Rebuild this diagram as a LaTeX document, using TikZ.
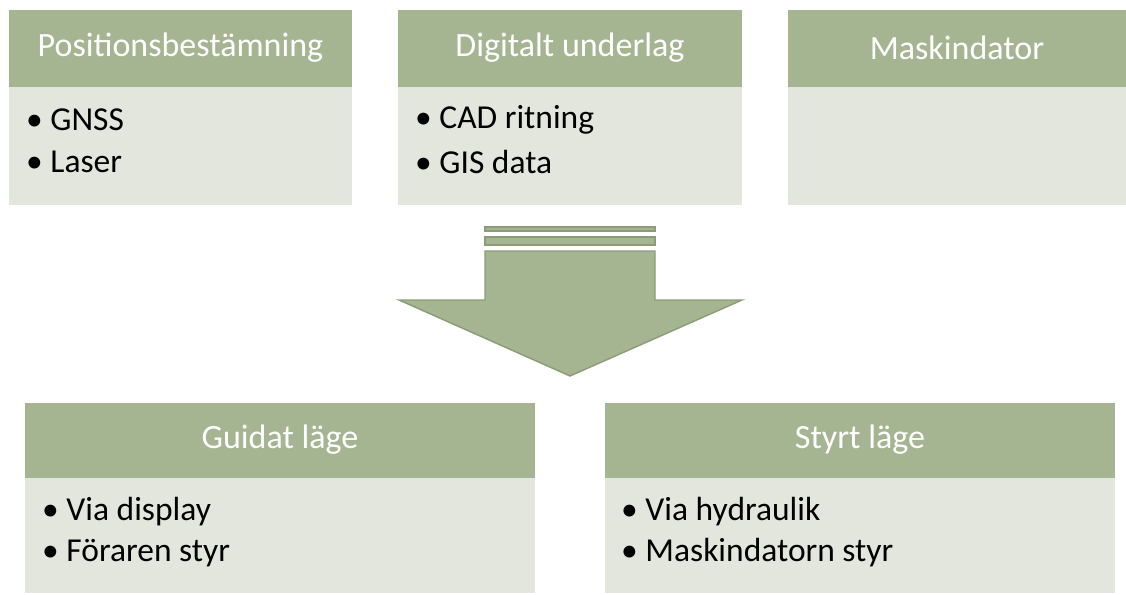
\documentclass[tikz,border=0pt]{standalone}
\usepackage{fontspec}
\setmainfont{Carlito}
\definecolor{hdr}{HTML}{A5B592}
\definecolor{bdy}{HTML}{E3E6DC}
\definecolor{arrline}{HTML}{8C9C78}
\begin{document}
\begin{tikzpicture}[x=1pt,y=-1pt,
  hdrtext/.style={text=white,font=\fontsize{34}{40}\selectfont,anchor=center},
  itemtext/.style={text=black,font=\fontsize{33.5}{40}\selectfont,anchor=west,inner sep=0pt},
  arrowpart/.style={fill=hdr,draw=arrline,line width=1.4pt,line join=miter}]
\useasboundingbox (0,0) rectangle (1126,594);
% top row
\foreach \xa/\xb in {9/352,398/742,788/1126}{
  \fill[hdr] (\xa,10) rectangle (\xb,87);
  \fill[bdy] (\xa,87) rectangle (\xb,205);
}
\node[hdrtext] (ha) at (180.5,48) {Positionsbestämning};
\node[hdrtext] (hb) at (570,48) {Digitalt underlag};
\node[hdrtext] (hc) at (957,48) {Maskindator};
\node[itemtext] (a1) at (26,120) {• GNSS};
\node[itemtext] (a2) at (26,162) {• Laser};
\node[itemtext] (b1) at (415,120) {• CAD ritning};
\node[itemtext] (b2) at (415,162) {• GIS data};
% bottom row
\foreach \xa/\xb in {25/535,605/1115}{
  \fill[hdr] (\xa,403) rectangle (\xb,478);
  \fill[bdy] (\xa,478) rectangle (\xb,593);
}
\node[hdrtext] (hd) at (280,440) {Guidat läge};
\node[hdrtext] (he) at (860,440) {Styrt läge};
\node[itemtext] (d1) at (42,512) {• Via display};
\node[itemtext] (d2) at (42,553) {• Föraren styr};
\node[itemtext] (e1) at (621,512) {• Via hydraulik};
\node[itemtext] (e2) at (621,553) {• Maskindatorn styr};
% arrow
\draw[arrowpart] (485,227) rectangle (655,231);
\draw[arrowpart] (485,237) rectangle (655,245);
\draw[arrowpart] (485,251) -- (655,251) -- (655,300) -- (742,300) -- (570,376) -- (399,300) -- (485,300) -- cycle;
\end{tikzpicture}
\end{document}
